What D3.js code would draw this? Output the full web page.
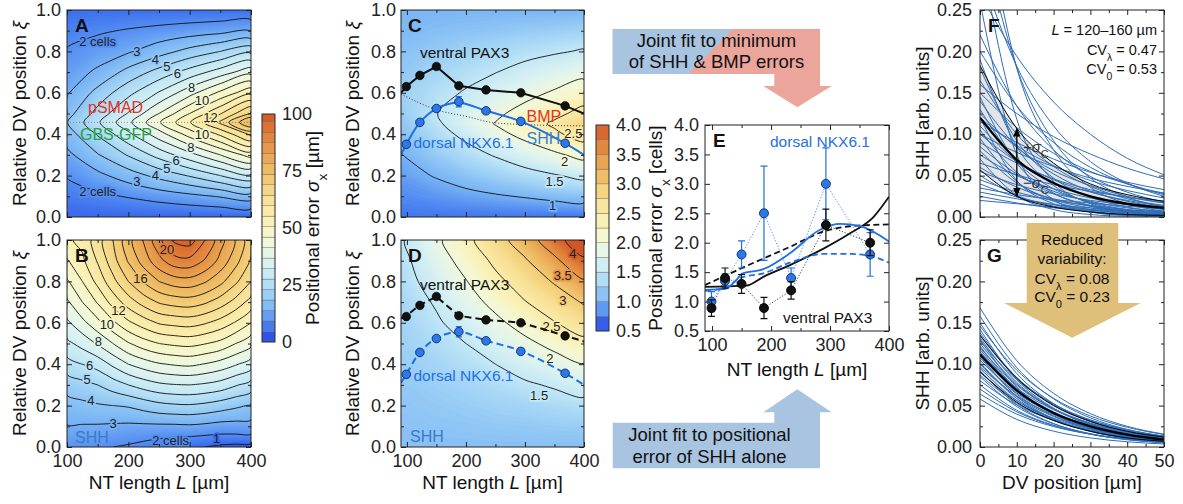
<!DOCTYPE html>
<html>
<head>
<meta charset="utf-8">
<title>Positional error of SHH / BMP gradients</title>
<script src="https://cdn.jsdelivr.net/npm/d3@7"></script>
<style>
  html, body { margin: 0; padding: 0; background: #fff; }
</style>
</head>
<body>
<svg id="fig" width="1183" height="504" viewBox="0 0 1183 504"></svg>
<script>
'use strict';

// ---------------- data ----------------
// A: error of the better of SHH/BMP (cells); rows follow A_XI, columns follow GRID_L
const GRID_L = [100, 150, 200, 250, 300, 350, 400];
const A_XI = [0, 0.1, 0.2, 0.3, 0.4, 0.457, 0.5, 0.6, 0.7, 0.8, 0.9, 1.0];
const A_ERR = [
  [1.00, 1.00, 1.00, 1.00, 1.00, 1.00, 1.00],
  [1.53, 1.79, 2.07, 2.40, 2.73, 3.08, 3.50],
  [2.07, 2.73, 3.50, 4.31, 5.09, 6.00, 6.77],
  [2.73, 3.92, 5.09, 6.38, 7.64, 9.00, 10.42],
  [3.50, 5.09, 6.77, 8.55, 10.42, 12.20, 14.20],
  [3.96, 5.85, 7.75, 9.90, 11.92, 14.20, 17.10],
  [3.58, 5.36, 7.08, 9.00, 11.00, 12.92, 15.10],
  [2.88, 4.33, 5.71, 7.08, 8.62, 10.23, 11.71],
  [2.48, 3.17, 4.33, 5.36, 6.40, 7.46, 8.62],
  [2.08, 2.48, 2.88, 3.58, 4.33, 5.00, 5.71],
  [1.64, 1.87, 2.08, 2.28, 2.48, 2.68, 2.88],
  [1.20, 1.20, 1.20, 1.20, 1.20, 1.20, 1.20]
];
const A_SPLIT_XI = 0.457;

// B: error of SHH alone (cells)
const B_L = [100, 125, 150, 175, 200, 225, 250, 275, 300, 325, 350, 375, 400];
const B_XI = [0, 0.05, 0.1, 0.2, 0.3, 0.4, 0.5, 0.6, 0.7, 0.8, 0.9, 1.0];
const B_ERR = [
  [2.20, 2.15, 2.10, 2.00, 1.90, 1.75, 1.60, 1.40, 1.20, 1.00, 0.80, 0.70, 0.60],
  [2.60, 2.55, 2.50, 2.40, 2.30, 2.20, 2.10, 2.05, 2.00, 1.90, 1.80, 1.80, 1.80],
  [2.95, 2.92, 2.90, 2.85, 2.80, 2.80, 2.80, 2.80, 2.85, 2.75, 2.60, 2.60, 2.60],
  [3.60, 3.75, 3.90, 4.00, 4.10, 4.40, 4.70, 4.85, 4.90, 4.75, 4.50, 4.20, 3.90],
  [4.40, 4.70, 5.00, 5.50, 6.00, 6.45, 6.80, 6.95, 7.00, 6.85, 6.60, 6.10, 5.60],
  [5.60, 6.00, 6.40, 7.20, 8.00, 8.50, 8.90, 9.10, 9.20, 8.95, 8.60, 8.10, 7.50],
  [6.75, 7.35, 8.10, 9.00, 9.90, 10.55, 11.00, 11.20, 11.30, 11.05, 10.70, 10.00, 9.30],
  [7.80, 8.70, 9.70, 10.80, 11.80, 12.50, 13.10, 13.30, 13.40, 13.10, 12.60, 11.90, 11.00],
  [8.80, 10.00, 11.10, 12.40, 13.50, 14.40, 15.10, 15.40, 15.50, 15.15, 14.50, 13.65, 12.60],
  [9.85, 11.00, 12.30, 13.70, 15.00, 16.10, 17.00, 17.50, 17.60, 17.10, 16.30, 15.20, 14.00],
  [10.90, 11.80, 13.10, 14.60, 16.10, 17.45, 18.70, 19.60, 19.70, 18.90, 17.70, 16.36, 14.90],
  [11.80, 12.30, 13.50, 15.00, 16.60, 18.10, 19.70, 21.20, 21.50, 20.00, 18.40, 16.90, 15.30]
];

// C / D fitted error maps (cells)
const GRID_L_CD = [90, 150, 200, 250, 300, 350, 400];
const C_XI = [0, 0.1, 0.2, 0.3, 0.4, 0.45, 0.5, 0.6, 0.7, 0.8, 0.9, 1.0];
const C_ERR = [
  [0.72, 0.72, 0.72, 0.72, 0.72, 0.72, 0.72],
  [0.81, 0.87, 0.92, 0.97, 1.02, 1.08, 1.13],
  [0.90, 1.02, 1.13, 1.24, 1.36, 1.47, 1.59],
  [0.99, 1.19, 1.36, 1.53, 1.72, 1.92, 2.13],
  [1.09, 1.36, 1.59, 1.86, 2.13, 2.41, 2.71],
  [1.14, 1.44, 1.72, 2.02, 2.29, 2.57, 2.89],
  [1.19, 1.49, 1.70, 1.92, 2.15, 2.39, 2.64],
  [1.23, 1.39, 1.53, 1.70, 1.87, 2.05, 2.25],
  [1.16, 1.29, 1.39, 1.49, 1.62, 1.74, 1.87],
  [1.11, 1.19, 1.26, 1.32, 1.39, 1.46, 1.53],
  [1.05, 1.09, 1.12, 1.15, 1.19, 1.22, 1.26],
  [1.02, 1.02, 1.02, 1.02, 1.02, 1.02, 1.02]
];
const C_SPLIT_L = [90, 151, 202, 246, 314, 400];
const C_SPLIT_XI = [0.594, 0.517, 0.485, 0.456, 0.445, 0.44];

const D_XI = [0, 0.1, 0.2, 0.3, 0.4, 0.5, 0.6, 0.7, 0.8, 0.9, 1.0];
const D_ERR = [
  [1.10, 1.10, 1.10, 1.10, 1.10, 1.10, 1.10],
  [1.12, 1.14, 1.15, 1.17, 1.18, 1.20, 1.21],
  [1.15, 1.18, 1.21, 1.25, 1.28, 1.34, 1.39],
  [1.17, 1.23, 1.28, 1.36, 1.45, 1.54, 1.66],
  [1.20, 1.28, 1.39, 1.50, 1.66, 1.82, 1.98],
  [1.23, 1.36, 1.50, 1.70, 1.90, 2.12, 2.38],
  [1.26, 1.45, 1.66, 1.90, 2.17, 2.48, 2.72],
  [1.29, 1.54, 1.82, 2.12, 2.48, 2.76, 3.04],
  [1.35, 1.66, 1.98, 2.38, 2.72, 3.04, 3.45],
  [1.39, 1.78, 2.17, 2.60, 2.95, 3.40, 3.92],
  [1.45, 1.90, 2.38, 2.80, 3.24, 3.80, 4.35]
];

// measured boundaries (C, D) and positional errors (E), per NT-length bin
const BIN_L = [99, 122, 150, 188, 234, 293, 368];
const PAX3_XI = [0.630, 0.684, 0.727, 0.634, 0.614, 0.600, 0.537];
const NKX_XI = [0.351, 0.457, 0.524, 0.557, 0.513, 0.462, 0.356];
const NKX_XI_ERR = [0, 0, 0, 0.025, 0, 0, 0];
const FIT_L = [90, 99, 122, 150, 188, 234, 293, 368, 400];
const C_PAX3_FIT = [0.60, 0.630, 0.684, 0.727, 0.634, 0.614, 0.600, 0.537, 0.50];
const C_NKX_FIT = [0.30, 0.351, 0.457, 0.524, 0.552, 0.513, 0.462, 0.356, 0.30];
const D_PAX3_FIT = [0.62, 0.634, 0.686, 0.726, 0.634, 0.614, 0.601, 0.538, 0.51];
const D_NKX_FIT = [0.31, 0.351, 0.457, 0.525, 0.557, 0.514, 0.464, 0.356, 0.30];

const E_PAX3 = [0.89, 1.40, 1.30, 0.89, 1.19, 2.30, 2.00];
const E_PAX3_ERR = [0.14, 0.17, 0.16, 0.18, 0.15, 0.27, 0.22];
const E_NKX = [1.00, 1.35, 1.80, 2.50, 1.40, 3.00, 1.80];
const E_NKX_ERR = [0.17, 0.12, 0.23, 0.80, 0.17, 0.61, 0.37];
const E_PAX3_SOLID_L = [88, 158, 187, 232, 289, 334, 374, 400];
const E_PAX3_SOLID = [1.25, 1.27, 1.42, 1.62, 1.90, 2.16, 2.44, 2.78];
const E_PAX3_DASH_L = [88, 155, 232, 289, 334, 400];
const E_PAX3_DASH = [1.28, 1.59, 1.93, 2.19, 2.28, 2.31];
const E_NKX_SOLID_L = [88, 120, 140, 150, 187, 232, 283, 317, 351, 400];
const E_NKX_SOLID = [1.20, 1.21, 1.35, 1.47, 1.55, 1.82, 2.22, 2.32, 2.28, 2.02];
const E_NKX_DASH_L = [88, 126, 147, 187, 232, 289, 334, 374, 400];
const E_NKX_DASH = [1.18, 1.25, 1.40, 1.48, 1.66, 1.81, 1.81, 1.76, 1.66];

// F / G: SHH profiles sampled at DV positions (µm)
const DV = [0, 10, 20, 30, 40, 50];
const F_PROFILES = [
  [0.270, 0.194, 0.139, 0.100, 0.071, 0.051], [0.400, 0.180, 0.081, 0.036, 0.016, 0.007],
  [0.320, 0.118, 0.043, 0.016, 0.006, 0.002], [0.220, 0.134, 0.081, 0.049, 0.030, 0.018],
  [0.200, 0.134, 0.090, 0.060, 0.040, 0.027], [0.180, 0.092, 0.047, 0.024, 0.012, 0.006],
  [0.165, 0.100, 0.061, 0.037, 0.022, 0.014], [0.150, 0.108, 0.077, 0.055, 0.040, 0.028],
  [0.145, 0.065, 0.029, 0.013, 0.006, 0.003], [0.140, 0.085, 0.052, 0.031, 0.019, 0.011],
  [0.130, 0.067, 0.034, 0.018, 0.009, 0.005], [0.125, 0.084, 0.056, 0.038, 0.025, 0.017],
  [0.120, 0.044, 0.016, 0.006, 0.002, 0.001], [0.115, 0.090, 0.070, 0.054, 0.042, 0.033],
  [0.110, 0.067, 0.041, 0.025, 0.015, 0.009], [0.105, 0.054, 0.028, 0.014, 0.007, 0.004],
  [0.100, 0.067, 0.045, 0.030, 0.020, 0.013], [0.095, 0.043, 0.019, 0.009, 0.004, 0.002],
  [0.090, 0.065, 0.046, 0.033, 0.024, 0.017], [0.085, 0.052, 0.031, 0.019, 0.011, 0.007],
  [0.080, 0.041, 0.021, 0.011, 0.006, 0.003], [0.075, 0.050, 0.034, 0.023, 0.015, 0.010],
  [0.070, 0.026, 0.009, 0.003, 0.001, 0.001], [0.065, 0.051, 0.039, 0.031, 0.024, 0.019],
  [0.060, 0.036, 0.022, 0.013, 0.008, 0.005], [0.055, 0.039, 0.028, 0.020, 0.015, 0.010],
  [0.050, 0.026, 0.013, 0.007, 0.003, 0.002], [0.045, 0.030, 0.020, 0.014, 0.009, 0.006],
  [0.040, 0.024, 0.015, 0.009, 0.005, 0.003], [0.035, 0.027, 0.021, 0.017, 0.013, 0.010],
  [0.030, 0.022, 0.015, 0.011, 0.008, 0.006], [0.025, 0.017, 0.011, 0.008, 0.005, 0.003],
  [0.020, 0.016, 0.012, 0.009, 0.007, 0.006], [0.260, 0.075, 0.021, 0.006, 0.002, 0.001],
  [0.350, 0.180, 0.092, 0.047, 0.024, 0.012], [0.300, 0.182, 0.110, 0.067, 0.041, 0.025],
  [0.190, 0.085, 0.038, 0.017, 0.008, 0.003], [0.160, 0.125, 0.097, 0.076, 0.059, 0.046],
  [0.120, 0.086, 0.062, 0.044, 0.032, 0.023], [0.100, 0.078, 0.061, 0.047, 0.037, 0.029]
];
const F_MEAN = [0.120, 0.069, 0.041, 0.025, 0.016, 0.011];
const F_UPPER = [0.183, 0.107, 0.065, 0.040, 0.027, 0.019];
const F_LOWER = [0.057, 0.025, 0.012, 0.006, 0.003, 0.002];

const G_PROFILES = [
  [0.168, 0.1043, 0.0648, 0.0403, 0.0250, 0.0155], [0.158, 0.0959, 0.0581, 0.0352, 0.0213, 0.0130],
  [0.150, 0.0887, 0.0524, 0.0309, 0.0183, 0.0108], [0.146, 0.0927, 0.0588, 0.0374, 0.0238, 0.0150],
  [0.142, 0.0815, 0.0467, 0.0268, 0.0155, 0.0088], [0.138, 0.0838, 0.0508, 0.0308, 0.0186, 0.0113],
  [0.135, 0.0838, 0.0521, 0.0324, 0.0201, 0.0124], [0.132, 0.0780, 0.0461, 0.0272, 0.0161, 0.0095],
  [0.130, 0.0722, 0.0400, 0.0222, 0.0124, 0.0069], [0.128, 0.0813, 0.0516, 0.0328, 0.0209, 0.0132],
  [0.125, 0.0759, 0.0460, 0.0279, 0.0169, 0.0103], [0.122, 0.0700, 0.0401, 0.0231, 0.0133, 0.0076],
  [0.120, 0.0745, 0.0463, 0.0288, 0.0179, 0.0110], [0.118, 0.0697, 0.0412, 0.0243, 0.0144, 0.0085],
  [0.115, 0.0698, 0.0423, 0.0256, 0.0155, 0.0094], [0.112, 0.0711, 0.0451, 0.0287, 0.0183, 0.0115],
  [0.110, 0.0611, 0.0339, 0.0188, 0.0105, 0.0058], [0.108, 0.0638, 0.0377, 0.0222, 0.0132, 0.0078],
  [0.105, 0.0652, 0.0405, 0.0252, 0.0156, 0.0097], [0.102, 0.0585, 0.0336, 0.0193, 0.0111, 0.0063],
  [0.100, 0.0607, 0.0368, 0.0223, 0.0135, 0.0082], [0.097, 0.0616, 0.0391, 0.0248, 0.0158, 0.0100],
  [0.095, 0.0561, 0.0332, 0.0196, 0.0116, 0.0068], [0.092, 0.0511, 0.0283, 0.0157, 0.0087, 0.0049],
  [0.090, 0.0559, 0.0347, 0.0216, 0.0134, 0.0083], [0.087, 0.0528, 0.0320, 0.0194, 0.0117, 0.0071],
  [0.085, 0.0488, 0.0280, 0.0161, 0.0093, 0.0053], [0.080, 0.0508, 0.0322, 0.0205, 0.0130, 0.0082],
  [0.075, 0.0443, 0.0262, 0.0155, 0.0092, 0.0054], [0.070, 0.0425, 0.0258, 0.0156, 0.0095, 0.0057],
  [0.064, 0.0397, 0.0247, 0.0154, 0.0095, 0.0059], [0.058, 0.0333, 0.0191, 0.0110, 0.0063, 0.0036]
];
const G_MEAN = [0.112, 0.068, 0.041, 0.025, 0.015, 0.009];
const G_UPPER = [0.135, 0.083, 0.050, 0.031, 0.019, 0.012];
const G_LOWER = [0.091, 0.054, 0.032, 0.019, 0.011, 0.007];

const CELL_UM = 4.6;   // cell diameter used for the µm colour scale of A/B

// ---------------- layout ----------------
const FONT = '"Liberation Sans", Arial, Helvetica, sans-serif';
const PA = { x0: 67, x1: 251, y0: 217, y1: 10 };
const PB = { x0: 67, x1: 251, y0: 447, y1: 240 };
const PC = { x0: 401, x1: 584, y0: 217, y1: 10 };
const PD = { x0: 401, x1: 584, y0: 447, y1: 240 };
const PE = { x0: 705, x1: 889, y0: 331, y1: 125 };
const PF = { x0: 980, x1: 1164, y0: 217, y1: 10 };
const PG = { x0: 980, x1: 1164, y0: 447, y1: 240 };
const CB1 = { x0: 262, x1: 275, y0: 342, y1: 114 };
const CB2 = { x0: 596, x1: 609, y0: 331, y1: 125 };
const TITLE_Y = 489;

const BLUE = '#1f6fe6';
const CURVE_BLUE = '#2e6db8';

const svg = d3.select('#fig').attr('font-family', FONT);

const CMAP = d3.scaleLinear()
  .domain(d3.range(15).map(i => i / 14))
  .range(['#2341e1', '#467df0', '#78b4f5', '#a0d2f5', '#c3e8f6', '#def3f0', '#f0f8dc',
          '#f8f5c3', '#faeba8', '#f7de91', '#f2ca73', '#ecb25c', '#e69648', '#de7837', '#d25828'])
  .interpolate(d3.interpolateRgb)
  .clamp(true);
const colUm = v => CMAP(v * CELL_UM / 100);
const colCells = v => CMAP((v - 0.5) / 3.5);

let clipN = 0;
function clip(p) {
  const id = 'clip' + (++clipN);
  svg.append('clipPath').attr('id', id).append('rect')
    .attr('x', p.x0).attr('y', p.y1).attr('width', p.x1 - p.x0).attr('height', p.y0 - p.y1);
  return `url(#${id})`;
}

function txt(x, y, parts, o = {}) {
  const t = svg.append('text').attr('x', x).attr('y', y)
    .attr('font-size', o.size || 18).attr('fill', o.fill || '#111')
    .attr('text-anchor', o.anchor || 'start');
  if (o.weight) t.attr('font-weight', o.weight);
  if (o.rotate) t.attr('transform', `rotate(-90,${x},${y})`);
  (typeof parts === 'string' ? [[parts]] : parts).forEach(([s, st]) => {
    const ts = t.append('tspan').text(s);
    if (st === 'i') ts.attr('font-style', 'italic');
    if (st === 'sub') ts.attr('baseline-shift', 'sub').style('font-size', '72%');
  });
  return t;
}

// split a closed contour ring into the parts that are not on the grid border
function openRuns(ring, n, m) {
  const pts = ring.slice(0, -1), k = pts.length;
  const border = (p, q) => (p[0] === 0 && q[0] === 0) || (p[0] === n && q[0] === n) ||
                           (p[1] === 0 && q[1] === 0) || (p[1] === m && q[1] === m);
  let start = -1;
  for (let i = 0; i < k; i++) if (border(pts[i], pts[(i + 1) % k])) { start = i; break; }
  if (start < 0) return [{ closed: true, pts }];
  const runs = [];
  let cur = null;
  for (let s = 1; s <= k; s++) {
    const i = (start + s) % k, j = (i + 1) % k;
    if (border(pts[i], pts[j])) { if (cur) { runs.push({ closed: false, pts: cur }); cur = null; } }
    else { if (!cur) cur = [pts[i]]; cur.push(pts[j]); }
  }
  if (cur) runs.push({ closed: false, pts: cur });
  return runs;
}

function heat(p, gx, gy, rows, xDom, color, fillThr, step, levels, labels) {
  const x = d3.scaleLinear().domain(xDom).range([p.x0, p.x1]);
  const y = d3.scaleLinear().domain([0, 1]).range([p.y0, p.y1]);
  const n = gx.length, m = gy.length;
  const vals = rows.flat();
  const ix = d3.scaleLinear().domain(d3.range(n)).range(gx);
  const iy = d3.scaleLinear().domain(d3.range(m)).range(gy);
  const cl = (v, hi) => Math.max(0, Math.min(hi, v));
  const proj = pt => [x(ix(cl(pt[0] - 0.5, n - 1))), y(iy(cl(pt[1] - 0.5, m - 1)))];
  const g = svg.append('g').attr('clip-path', clip(p));

  d3.contours().size([n, m]).thresholds(fillThr)(vals).forEach(c => {
    const d = c.coordinates.map(poly => poly.map(r =>
      'M' + r.map(pt => proj(pt).map(v => v.toFixed(2)).join(',')).join('L') + 'Z').join('')).join('');
    if (d) g.append('path').attr('d', d).attr('fill', color(c.value + step / 2)).attr('fill-rule', 'evenodd');
  });

  const open = d3.line().curve(d3.curveCatmullRom.alpha(0.5));
  const closed = d3.line().curve(d3.curveCatmullRomClosed.alpha(0.5));
  d3.contours().size([n, m]).thresholds(levels)(vals).forEach(c => {
    c.coordinates.forEach(poly => poly.forEach(ring => {
      openRuns(ring, n, m).forEach(run => {
        const pts = run.pts.map(proj);
        g.append('path').attr('d', run.closed ? closed(pts) : open(pts))
          .attr('fill', 'none').attr('stroke', '#111').attr('stroke-width', 0.9);
      });
    }));
  });

  labels.forEach(([s, L, xi, lev]) => {
    g.append('text').attr('x', x(L)).attr('y', y(xi)).attr('dy', '0.35em')
      .attr('text-anchor', 'middle').attr('font-size', 13).attr('fill', '#222')
      .attr('stroke', color(lev)).attr('stroke-width', 3.5).attr('paint-order', 'stroke')
      .attr('stroke-linejoin', 'round').text(s);
  });
  return { x, y, g };
}

function axes(p, x, y, o) {
  const g = svg.append('g');
  const add = (axis, tx, ty, keep) => {
    const a = g.append('g').attr('transform', `translate(${tx},${ty})`).call(axis)
      .attr('font-family', FONT).attr('font-size', 18);
    a.select('.domain').remove();
    a.selectAll('line').attr('stroke', '#222');
    if (keep) a.selectAll('text').attr('fill', '#222');
    else a.selectAll('text').remove();
  };
  const none = () => '';
  add(d3.axisBottom(x).tickValues(o.xMajor).tickSize(-5).tickPadding(7).tickFormat(o.xFmt || d3.format('d')), 0, p.y0, o.xLabels);
  add(d3.axisBottom(x).tickValues(o.xMinor).tickSize(-3).tickFormat(none), 0, p.y0, false);
  add(d3.axisTop(x).tickValues(o.xMajor).tickSize(-5).tickFormat(none), 0, p.y1, false);
  add(d3.axisTop(x).tickValues(o.xMinor).tickSize(-3).tickFormat(none), 0, p.y1, false);
  add(d3.axisLeft(y).tickValues(o.yMajor).tickSize(-5).tickPadding(o.yPad).tickFormat(o.yFmt), p.x0, 0, true);
  add(d3.axisLeft(y).tickValues(o.yMinor).tickSize(-3).tickFormat(none), p.x0, 0, false);
  add(d3.axisRight(y).tickValues(o.yMajor).tickSize(-5).tickFormat(none), p.x1, 0, false);
  add(d3.axisRight(y).tickValues(o.yMinor).tickSize(-3).tickFormat(none), p.x1, 0, false);
  g.append('rect').attr('x', p.x0).attr('y', p.y1).attr('width', p.x1 - p.x0).attr('height', p.y0 - p.y1)
    .attr('fill', 'none').attr('stroke', '#222').attr('stroke-width', 1);
}

function colorbar(cb, dom, step, color, ticks, fmt) {
  const y = d3.scaleLinear().domain(dom).range([cb.y0, cb.y1]);
  const g = svg.append('g');
  d3.range(dom[0], dom[1] - 1e-9, step).forEach(v => {
    const top = Math.min(v + step, dom[1]);
    g.append('rect').attr('x', cb.x0).attr('width', cb.x1 - cb.x0)
      .attr('y', y(top)).attr('height', y(v) - y(top))
      .attr('fill', color(v + step / 2)).attr('stroke', '#666').attr('stroke-width', 0.4);
  });
  g.append('rect').attr('x', cb.x0).attr('y', cb.y1).attr('width', cb.x1 - cb.x0).attr('height', cb.y0 - cb.y1)
    .attr('fill', 'none').attr('stroke', '#222').attr('stroke-width', 0.8);
  const a = g.append('g').attr('transform', `translate(${cb.x1},0)`)
    .call(d3.axisRight(y).tickValues(ticks).tickSize(0).tickPadding(7).tickFormat(fmt))
    .attr('font-family', FONT).attr('font-size', 18);
  a.select('.domain').remove();
  a.selectAll('text').attr('fill', '#222');
}

const ab = { xMajor: [100, 200, 300, 400], xMinor: [150, 250, 350],
  yMajor: d3.range(0, 1.001, 0.2), yMinor: d3.range(0.1, 1, 0.2), yFmt: d3.format('.1f'), yPad: 6 };
const cd = Object.assign({}, ab, { yPad: 5 });

// ---------------- A ----------------
const A = heat(PA, GRID_L, A_XI, A_ERR, [100, 400], colUm, d3.range(0.5, 18, 0.1), 0.1, d3.range(2, 18), [
  ['2 cells', 150, 0.847, 2], ['3', 214, 0.80, 3], ['4', 244, 0.762, 4], ['5', 263, 0.729, 5],
  ['6', 280, 0.694, 6], ['8', 303, 0.627, 8], ['10', 320, 0.565, 10], ['12', 334, 0.48, 12],
  ['2 cells', 150, 0.122, 2], ['3', 214, 0.17, 3], ['4', 244, 0.203, 4], ['5', 263, 0.235, 5],
  ['6', 278, 0.272, 6], ['8', 302, 0.335, 8], ['10', 320, 0.40, 10]]);
A.g.append('line').attr('x1', PA.x0).attr('x2', PA.x1).attr('y1', A.y(A_SPLIT_XI)).attr('y2', A.y(A_SPLIT_XI))
  .attr('stroke', '#8a8a8a').attr('stroke-width', 1).attr('stroke-dasharray', '1,2');
txt(88, 112.5, 'pSMAD', { size: 16, fill: '#e3341f' });
txt(80, 140, 'GBS-GFP', { size: 16, fill: '#1fa346' });
axes(PA, A.x, A.y, Object.assign({}, ab, { xLabels: false }));
txt(75, 31.5, 'A', { size: 19, weight: 'bold' });

// ---------------- B ----------------
const B = heat(PB, B_L, B_XI, B_ERR, [100, 400], colUm, d3.range(0.5, 22, 0.1), 0.1, d3.range(1, 22), [
  ['20', 263, 0.952, 20], ['16', 220, 0.815, 16], ['12', 184, 0.662, 12], ['10', 165, 0.593, 10],
  ['8', 151, 0.509, 8], ['6', 137, 0.396, 6], ['5', 133, 0.324, 5], ['4', 139, 0.227, 4],
  ['3', 175, 0.114, 3], ['2 cells', 269, 0.034, 2], ['1', 344, 0.042, 1]]);
txt(75, 443, 'SHH', { size: 16, fill: '#3a7ac6' });
axes(PB, B.x, B.y, Object.assign({}, ab, { xLabels: true }));
txt(75, 261.5, 'B', { size: 19, weight: 'bold' });

// colour bar 1 (µm)
colorbar(CB1, [0, 100], CELL_UM, v => CMAP(v / 100), [0, 25, 50, 75, 100], d3.format('d'));

// ---------------- C ----------------
const C = heat(PC, GRID_L_CD, C_XI, C_ERR, [90, 400], colCells, d3.range(0.6, 3.1, 0.02), 0.02, [1, 1.5, 2, 2.5],
  [['2.5', 382, 0.404, 2.5], ['2', 367, 0.267, 2], ['1.5', 350, 0.17, 1.5], ['1', 347, 0.058, 1]]);
C.g.append('path').datum(C_SPLIT_L)
  .attr('d', d3.line().x(d => C.x(d)).y((d, i) => C.y(C_SPLIT_XI[i])).curve(d3.curveMonotoneX))
  .attr('fill', 'none').attr('stroke', '#222').attr('stroke-width', 0.9).attr('stroke-dasharray', '1,2');

function boundaries(P, g, pax3Fit, nkxFit, dashed) {
  const line = d3.line().x((d, i) => P.x(FIT_L[i])).y(d => P.y(d));
  g.append('path').datum(pax3Fit).attr('d', line.curve(d3.curveLinear))
    .attr('fill', 'none').attr('stroke', '#111').attr('stroke-width', 2)
    .attr('stroke-dasharray', dashed ? '7,4' : null);
  g.append('path').datum(nkxFit).attr('d', line.curve(d3.curveCatmullRom.alpha(0.5)))
    .attr('fill', 'none').attr('stroke', BLUE).attr('stroke-width', 2)
    .attr('stroke-dasharray', dashed ? '7,4' : null);
  BIN_L.forEach((L, i) => {
    if (NKX_XI_ERR[i] > 0) {
      const cx = P.x(L), a = P.y(NKX_XI[i] - NKX_XI_ERR[i]), b = P.y(NKX_XI[i] + NKX_XI_ERR[i]);
      g.append('path').attr('d', `M${cx},${a}V${b}M${cx - 3},${a}H${cx + 3}M${cx - 3},${b}H${cx + 3}`)
        .attr('stroke', BLUE).attr('stroke-width', 1.2).attr('fill', 'none');
    }
  });
  g.selectAll(null).data(BIN_L).enter().append('circle')
    .attr('cx', d => P.x(d)).attr('cy', (d, i) => P.y(PAX3_XI[i])).attr('r', 4.3)
    .attr('fill', '#111').attr('stroke', '#000').attr('stroke-width', 0.6);
  g.selectAll(null).data(BIN_L).enter().append('circle')
    .attr('cx', d => P.x(d)).attr('cy', (d, i) => P.y(NKX_XI[i])).attr('r', 4.3)
    .attr('fill', '#2a78ea').attr('stroke', '#0d2c66').attr('stroke-width', 0.9);
}
boundaries(C, C.g, C_PAX3_FIT, C_NKX_FIT, false);
txt(420, 58, 'ventral PAX3', { size: 15.5 });
txt(413.5, 148, 'dorsal NKX6.1', { size: 15.5, fill: BLUE });
txt(526.5, 121.5, 'BMP', { size: 16, fill: '#e3341f' });
txt(526.5, 143.5, 'SHH', { size: 16, fill: '#3a7ed0' });
axes(PC, C.x, C.y, Object.assign({}, cd, { xLabels: false }));
txt(408, 31.5, 'C', { size: 19, weight: 'bold' });

// ---------------- D ----------------
const D = heat(PD, GRID_L_CD, D_XI, D_ERR, [90, 400], colCells, d3.range(1.0, 4.5, 0.02), 0.02, [1.5, 2, 2.5, 3, 3.5, 4],
  [['4', 381, 0.936, 4], ['3.5', 364, 0.831, 3.5], ['3', 364, 0.71, 3], ['2.5', 345, 0.581, 2.5],
   ['2', 342, 0.428, 2], ['1.5', 324, 0.251, 1.5]]);
boundaries(D, D.g, D_PAX3_FIT, D_NKX_FIT, true);
txt(420, 290, 'ventral PAX3', { size: 15.5 });
txt(413.5, 381, 'dorsal NKX6.1', { size: 15.5, fill: BLUE });
txt(410, 441.5, 'SHH', { size: 16, fill: '#3a7ac6' });
axes(PD, D.x, D.y, Object.assign({}, cd, { xLabels: true }));
txt(408, 261.5, 'D', { size: 19, weight: 'bold' });

// colour bar 2 (cells)
colorbar(CB2, [0.5, 4.0], 0.25, colCells, d3.range(0.5, 4.01, 0.5), d3.format('.1f'));

// ---------------- E ----------------
const xE = d3.scaleLinear().domain([88, 400]).range([PE.x0, PE.x1]);
const yE = d3.scaleLinear().domain([0.5, 4]).range([PE.y0, PE.y1]);
const gE = svg.append('g').attr('clip-path', clip(PE));
const lineE = (Ls) => d3.line().x((d, i) => xE(Ls[i])).y(d => yE(d));
gE.append('path').datum(E_NKX).attr('d', lineE(BIN_L))
  .attr('fill', 'none').attr('stroke', '#4a90ee').attr('stroke-width', 1).attr('stroke-dasharray', '1.2,1.8');
gE.append('path').datum(E_PAX3).attr('d', lineE(BIN_L))
  .attr('fill', 'none').attr('stroke', '#444').attr('stroke-width', 1).attr('stroke-dasharray', '1.2,1.8');
[[E_PAX3_SOLID, E_PAX3_SOLID_L, '#111', null], [E_PAX3_DASH, E_PAX3_DASH_L, '#111', '6,3.5'],
 [E_NKX_SOLID, E_NKX_SOLID_L, BLUE, null], [E_NKX_DASH, E_NKX_DASH_L, BLUE, '6,3.5']].forEach(([v, Ls, c, dash]) => {
  gE.append('path').datum(v).attr('d', lineE(Ls).curve(d3.curveMonotoneX))
    .attr('fill', 'none').attr('stroke', c).attr('stroke-width', 1.8).attr('stroke-dasharray', dash);
});
function errDots(vals, errs, stroke, fill, edge) {
  BIN_L.forEach((L, i) => {
    const cx = xE(L), a = yE(vals[i] - errs[i]), b = yE(vals[i] + errs[i]);
    gE.append('path').attr('d', `M${cx},${a}V${b}M${cx - 3.5},${a}H${cx + 3.5}M${cx - 3.5},${b}H${cx + 3.5}`)
      .attr('stroke', stroke).attr('stroke-width', 1.2).attr('fill', 'none');
  });
  gE.selectAll(null).data(vals).enter().append('circle')
    .attr('cx', (d, i) => xE(BIN_L[i])).attr('cy', d => yE(d)).attr('r', 4.5)
    .attr('fill', fill).attr('stroke', edge).attr('stroke-width', 0.9);
}
errDots(E_NKX, E_NKX_ERR, BLUE, '#2a78ea', '#0d2c66');
errDots(E_PAX3, E_PAX3_ERR, '#111', '#111', '#000');
txt(770, 146.5, 'dorsal NKX6.1', { size: 15.5, fill: BLUE });
txt(783, 323, 'ventral PAX3', { size: 15.5 });
axes(PE, xE, yE, { xMajor: [100, 200, 300, 400], xMinor: [150, 250, 350], xLabels: true,
  yMajor: d3.range(0.5, 4.01, 0.5), yMinor: [], yFmt: d3.format('.1f'), yPad: 6 });
txt(713, 147, 'E', { size: 19, weight: 'bold' });

// ---------------- F / G ----------------
function profiles(P, rows, mean, upper, lower) {
  const x = d3.scaleLinear().domain([0, 50]).range([P.x0, P.x1]);
  const y = d3.scaleLinear().domain([0, 0.25]).range([P.y0, P.y1]);
  const g = svg.append('g').attr('clip-path', clip(P));
  g.append('path').datum(DV)
    .attr('d', d3.area().x(d => x(d)).y0((d, i) => y(lower[i])).y1((d, i) => y(upper[i])).curve(d3.curveMonotoneX))
    .attr('fill', '#e4e4e4');
  const line = d3.line().x((d, i) => x(DV[i])).y(d => y(d)).curve(d3.curveMonotoneX);
  g.selectAll(null).data(rows).enter().append('path').attr('d', line)
    .attr('fill', 'none').attr('stroke', CURVE_BLUE).attr('stroke-width', 1);
  [[upper, 1], [lower, 1], [mean, 2.3]].forEach(([v, w]) => {
    g.append('path').datum(v).attr('d', line).attr('fill', 'none').attr('stroke', '#000').attr('stroke-width', w);
  });
  return { x, y, g };
}
const F = profiles(PF, F_PROFILES, F_MEAN, F_UPPER, F_LOWER);
// ±σ_C arrow at DV = 10 µm
svg.append('defs').append('marker').attr('id', 'ah').attr('viewBox', '0 0 10 10').attr('refX', 9).attr('refY', 5)
  .attr('markerWidth', 7).attr('markerHeight', 7).attr('orient', 'auto-start-reverse')
  .append('path').attr('d', 'M0,1L10,5L0,9Z').attr('fill', '#000');
F.g.append('line').attr('x1', F.x(DV[1])).attr('x2', F.x(DV[1]))
  .attr('y1', F.y(F_UPPER[1])).attr('y2', F.y(F_LOWER[1]))
  .attr('stroke', '#000').attr('stroke-width', 1.3)
  .attr('marker-start', 'url(#ah)').attr('marker-end', 'url(#ah)');
txt(1023, 151.5, [['+'], ['σ', 'i'], ['C', 'sub']], { size: 15, fill: '#333' });
txt(1023, 188, [['−'], ['σ', 'i'], ['C', 'sub']], { size: 15, fill: '#333' });
txt(1157, 35, [['L', 'i'], [' = 120–160 µm']], { size: 14.5, anchor: 'end' });
txt(1157, 55, [['CV'], ['λ', 'sub'], [' = 0.47']], { size: 14.5, anchor: 'end' });
txt(1157, 74, [['CV'], ['0', 'sub'], [' = 0.53']], { size: 14.5, anchor: 'end' });
const fgTicks = { xMajor: [0, 10, 20, 30, 40, 50], xMinor: [5, 15, 25, 35, 45],
  yMajor: d3.range(0, 0.2501, 0.05), yMinor: d3.range(0.025, 0.25, 0.05), yFmt: d3.format('.2f'), yPad: 8 };
axes(PF, F.x, F.y, Object.assign({}, fgTicks, { xLabels: false }));
txt(988, 31.5, 'F', { size: 19, weight: 'bold' });

const G = profiles(PG, G_PROFILES, G_MEAN, G_UPPER, G_LOWER);
axes(PG, G.x, G.y, Object.assign({}, fgTicks, { xLabels: true }));
txt(987, 261.5, 'G', { size: 19, weight: 'bold' });

// reduced-variability arrow
svg.append('path')
  .attr('d', 'M1026.7,223H1118.3V303H1140.7L1072.3,337.7L1004,303H1026.7Z')
  .attr('fill', '#dfc07b');
txt(1072, 245, 'Reduced', { size: 15.5, anchor: 'middle' });
txt(1072, 264, 'variability:', { size: 15.5, anchor: 'middle' });
txt(1072, 283.5, [['CV'], ['λ', 'sub'], [' = 0.08']], { size: 15.5, anchor: 'middle' });
txt(1072, 302, [['CV'], ['0', 'sub'], [' = 0.23']], { size: 15.5, anchor: 'middle' });

// ---------------- middle arrows ----------------
svg.append('path').attr('d', 'M612.7,29H820V86H831.7L797.3,107.3L763.3,86H774.3V74H612.7Z').attr('fill', '#eca59b');
svg.append('path').attr('d', 'M612.7,29H733L688.3,74H612.7Z').attr('fill', '#a8c4e0');
txt(716.5, 47, 'Joint fit to minimum', { size: 18.5, anchor: 'middle' });
txt(716.5, 68, 'of SHH & BMP errors', { size: 18.5, anchor: 'middle' });
svg.append('path').attr('d', 'M612.7,468.3V422.7H774.3V412.3H763.3L797.3,389.3L831.7,412.3H820V468.3Z').attr('fill', '#a8c4e0');
txt(709.5, 440.5, 'Joint fit to positional', { size: 18.5, anchor: 'middle' });
txt(709.5, 463, 'error of SHH alone', { size: 18.5, anchor: 'middle' });

// ---------------- axis titles ----------------
const dvTitle = [['Relative DV position '], ['ξ', 'i']];
const ntTitle = [['NT length '], ['L', 'i'], [' [µm]']];
txt(26, 113.5, dvTitle, { size: 19, anchor: 'middle', rotate: true });
txt(26, 343.5, dvTitle, { size: 19, anchor: 'middle', rotate: true });
txt(359, 113.5, dvTitle, { size: 19, anchor: 'middle', rotate: true });
txt(359, 343.5, dvTitle, { size: 19, anchor: 'middle', rotate: true });
txt(159, TITLE_Y, ntTitle, { size: 19, anchor: 'middle' });
txt(492.5, TITLE_Y, ntTitle, { size: 19, anchor: 'middle' });
txt(797, 376, ntTitle, { size: 19, anchor: 'middle' });
txt(319, 228, [['Positional error '], ['σ', 'i'], ['x', 'sub'], [' [µm]']], { size: 19, anchor: 'middle', rotate: true });
txt(662, 228, [['Positional error '], ['σ', 'i'], ['x', 'sub'], [' [cells]']], { size: 19, anchor: 'middle', rotate: true });
txt(929, 113.5, 'SHH [arb. units]', { size: 19, anchor: 'middle', rotate: true });
txt(929, 343.5, 'SHH [arb. units]', { size: 19, anchor: 'middle', rotate: true });
txt(1072, TITLE_Y, 'DV position [µm]', { size: 19, anchor: 'middle' });
</script>
</body>
</html>
